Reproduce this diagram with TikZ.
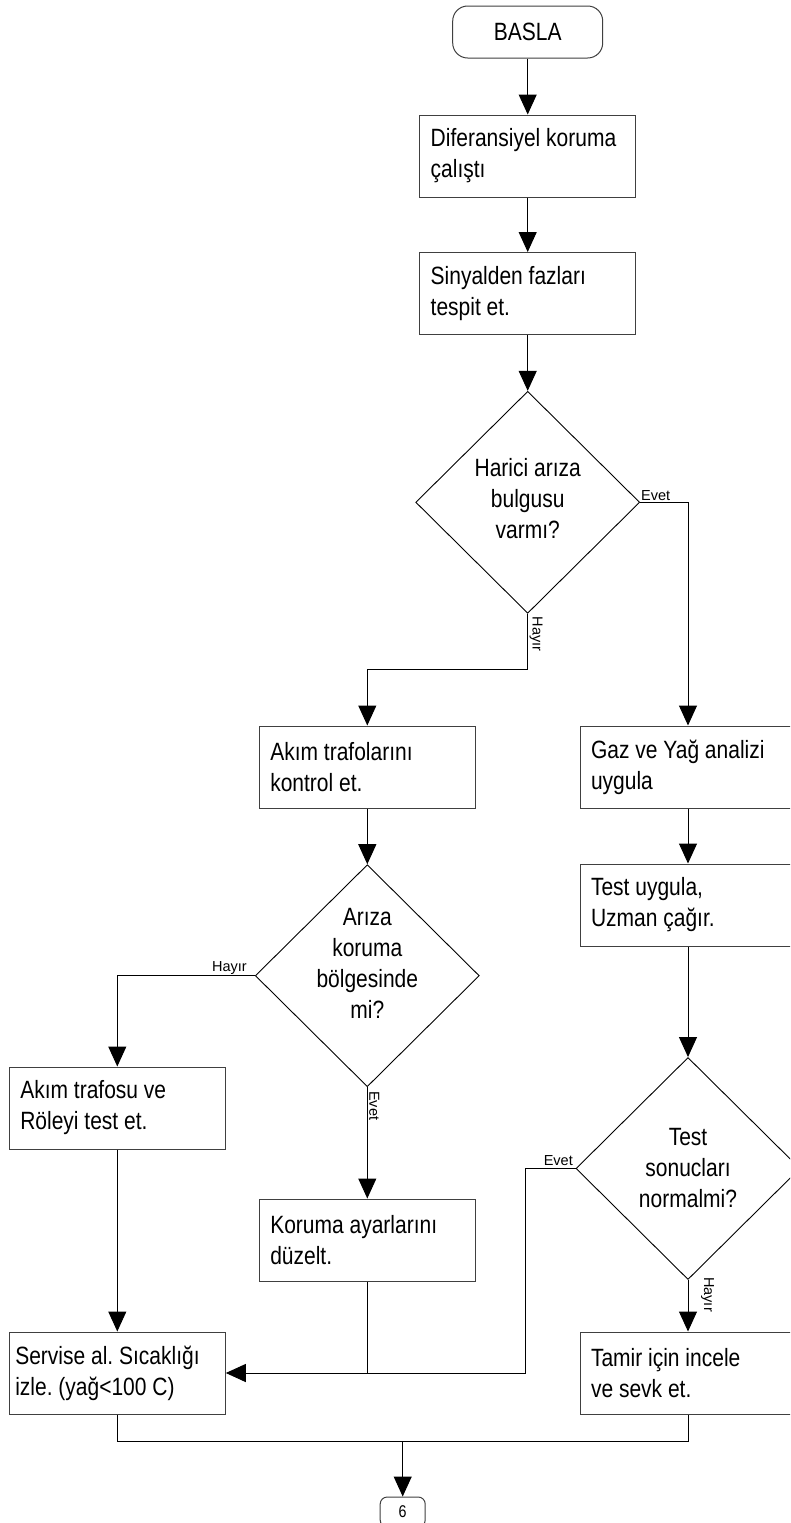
\documentclass[tikz,border=0pt]{standalone}
\usepackage{fontspec}
\setmainfont{Liberation Sans}[FakeStretch=0.84]
\newfontfamily\tagfont{Liberation Sans}
\usetikzlibrary{arrows.meta,shapes.geometric}

\begin{document}
\begin{tikzpicture}[x=1pt,y=-1pt,
  bodyfont/.style={font=\fontsize{25}{31}\selectfont},
  procbox/.style={bodyfont, draw=black!75, line width=1pt, fill=white,
    minimum width=216pt, minimum height=82pt, text width=194pt,
    inner xsep=11pt, inner ysep=0pt, align=left,
    execute at begin node={\spaceskip=0pt\xspaceskip=0pt\frenchspacing}},
  decision/.style={diamond, draw=black, line width=0.9pt, fill=white,
    minimum width=224pt, minimum height=222pt, inner sep=0pt},
  dtext/.style={bodyfont, align=center, inner sep=0pt},
  terminal/.style={bodyfont, draw=black!75, line width=1pt, fill=white,
    rounded corners=15pt, minimum width=150pt, minimum height=52pt},
  tag/.style={font=\tagfont\fontsize{14.5}{16}\selectfont, inner sep=0pt},
  flow/.style={line width=1pt, -{Triangle[length=20pt,width=18pt]}},
  link/.style={line width=1pt}]

\path[use as bounding box] (0,0) rectangle (790,1523);
\clip (0,0) rectangle (790,1523);
\fill[white] (0,0) rectangle (790,1523);

% main column
\node[terminal] (start) at (527.7,32) {BASLA};
\node[procbox] (b1) at (527.7,156) {Diferansiyel koruma\\çalıştı};
\node[procbox] (b2) at (527.7,293.5) {Sinyalden fazları\\tespit et.};
\node[decision] (d1) at (527.7,502.3) {};
\node[dtext] (d1t) at (527.7,498.5) {Harici arıza\\bulgusu\\varmı?};

% "Hayır" branch
\node[procbox] (akim) at (367.3,767) {Akım trafolarını\\kontrol et.};
\node[decision] (d2) at (367.3,975.7) {};
\node[dtext] (d2t) at (367.3,963.5) {Arıza\\koruma\\bölgesinde\\mi?};
\node[procbox] (atrafo) at (117.3,1108) {Akım trafosu ve\\Röleyi test et.};
\node[procbox] (koruma) at (367.3,1240) {Koruma ayarlarını\\düzelt.};
\node[procbox, inner xsep=6pt, text width=204pt] (servis) at (117.3,1373)
  {Servise al. Sıcaklığı\\izle. (yağ<100 C)};

% "Evet" branch
\node[procbox] (gaz) at (688,767) {Gaz ve Yağ analizi\\uygula};
\node[procbox] (test) at (688,905) {Test uygula,\\Uzman çağır.};
\node[decision] (d3) at (688,1168.5) {};
\node[dtext] (d3t) at (688,1168) {Test\\sonucları\\normalmi?};
\node[procbox] (tamir) at (688,1373) {Tamir için incele\\ve sevk et.};

% off-page connector
\node[terminal, minimum width=45pt, minimum height=30pt, rounded corners=7pt,
  font=\fontsize{17}{20}\selectfont] (cont) at (402.7,1512) {6};

% branch labels
\node[tag, anchor=base west] (l1) at (641,500.5) {Evet};
\node[tag, rotate=-90, anchor=south west] (l2) at (529.5,616.5) {Hayır};
\node[tag, anchor=base east] (l3) at (247,971) {Hayır};
\node[tag, rotate=-90, anchor=south west] (l4) at (369,1091) {Evet};
\node[tag, anchor=base east] (l5) at (573,1165.5) {Evet};
\node[tag, rotate=-90, anchor=south west] (l6) at (701,1277) {Hayır};

% connectors
\draw[flow] (start) -- (b1);
\draw[flow] (b1) -- (b2);
\draw[flow] (b2) -- (d1);
\draw[flow] (d1.east) -| (gaz.north);
\draw[flow] (d1.south) -- ++(0,55.7) -| (akim.north);
\draw[flow] (akim) -- (d2);
\draw[flow] (d2.west) -| (atrafo.north);
\draw[flow] (d2) -- (koruma);
\draw[flow] (gaz) -- (test);
\draw[flow] (test) -- (d3);
\draw[flow] (d3) -- (tamir);
\draw[flow] (atrafo) -- (servis);
\draw[flow] (d3.west) -- ++(-50.3,0) |- (servis.east);
\draw[link] (koruma.south) -- (koruma.south |- servis.east);
\coordinate (mj) at (402.7,1441.7);
\draw[link] (servis.south) |- (mj) -| (tamir.south);
\draw[flow] (mj) -- (cont);
\end{tikzpicture}
\end{document}
